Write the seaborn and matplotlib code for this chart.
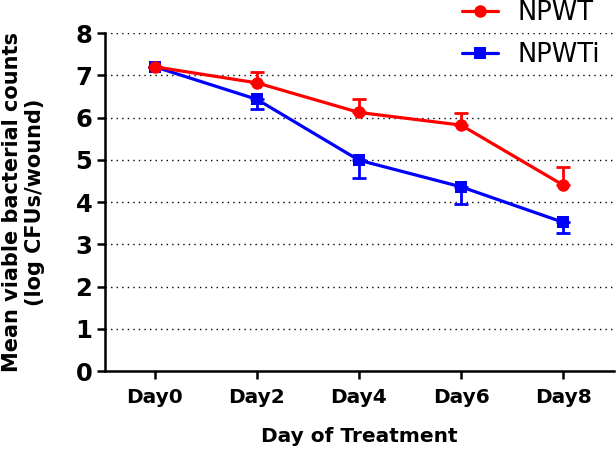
"""Bacterial counts over treatment days, NPWT vs NPWTi."""

import matplotlib
matplotlib.use("Agg")
import matplotlib.pyplot as plt
import numpy as np
import pandas as pd
import seaborn as sns

days = ["Day0", "Day2", "Day4", "Day6", "Day8"]
npwt_mean = [7.2, 6.82, 6.12, 5.82, 4.40]
npwt_err = [0.0, 0.26, 0.32, 0.28, 0.42]
npwti_mean = [7.2, 6.43, 4.99, 4.36, 3.52]
npwti_err = [0.0, 0.22, 0.42, 0.40, 0.26]

RED = "#ff0000"
BLUE = "#0000ff"


def main() -> None:
    sns.set_style("ticks")
    plt.rcParams["font.family"] = ["DejaVu Sans"]
    plt.rcParams["text.color"] = "black"
    plt.rcParams["axes.labelcolor"] = "black"

    x = np.arange(len(days))
    df = pd.DataFrame(
        {
            "day": np.concatenate([x, x]),
            "count": npwti_mean + npwt_mean,
            "group": ["NPWTi"] * len(days) + ["NPWT"] * len(days),
        }
    )

    fig = plt.figure(figsize=(6.16, 4.49), dpi=100)
    ax = fig.add_axes([0.170, 0.1737, 0.827, 0.7528])

    sns.lineplot(
        data=df,
        x="day",
        y="count",
        hue="group",
        style="group",
        hue_order=["NPWTi", "NPWT"],
        style_order=["NPWTi", "NPWT"],
        palette={"NPWT": RED, "NPWTi": BLUE},
        markers={"NPWT": "o", "NPWTi": "s"},
        dashes=False,
        markersize=9,
        markeredgewidth=0,
        linewidth=2.3,
        ax=ax,
        zorder=3,
    )

    # one-sided error bars, Prism style
    zeros = [0] * len(days)
    ax.errorbar(x, npwti_mean, yerr=[npwti_err, zeros], fmt="none",
                ecolor=BLUE, elinewidth=2.0, capsize=5, capthick=2.0, zorder=2)
    ax.errorbar(x, npwt_mean, yerr=[zeros, npwt_err], fmt="none",
                ecolor=RED, elinewidth=2.0, capsize=5, capthick=2.0, zorder=2)

    ax.set_xlim(-0.49, 4.5)
    ax.set_ylim(0, 8)
    ax.set_xticks(x)
    ax.set_xticklabels(days)
    ax.set_yticks(range(0, 9))
    ax.yaxis.grid(True, linestyle=(0, (1, 3)), color="black", linewidth=1.0)
    ax.set_axisbelow(True)

    for side in ("top", "right"):
        ax.spines[side].set_visible(False)
    for side in ("left", "bottom"):
        ax.spines[side].set_linewidth(1.8)
        ax.spines[side].set_color("black")
    ax.tick_params(axis="both", width=1.8, length=6, color="black",
                   labelcolor="black")
    ax.tick_params(axis="y", labelsize=17.5, pad=3)
    ax.tick_params(axis="x", labelsize=14.5, pad=6)
    for lbl in ax.get_xticklabels() + ax.get_yticklabels():
        lbl.set_fontweight("bold")

    ax.set_xlabel("Day of Treatment", fontsize=14.5, fontweight="bold")
    ax.set_ylabel("Mean viable bacterial counts\n(log CFUs/wound)",
                  fontsize=15, fontweight="bold", linespacing=1.15)
    ax.xaxis.set_label_coords(0.5, -0.165)
    ax.yaxis.set_label_coords(-0.118, 0.5)

    handles, labels = ax.get_legend_handles_labels()
    order = [labels.index("NPWT"), labels.index("NPWTi")]
    ax.get_legend().remove()
    fig.legend(
        [handles[i] for i in order],
        [labels[i] for i in order],
        loc="upper left",
        bbox_to_anchor=(0.75, 0.999),
        borderaxespad=0,
        borderpad=0,
        frameon=False,
        fontsize=18.5,
        handlelength=1.4,
        handletextpad=0.75,
        labelspacing=0.62,
    )

    fig.savefig("out.png", dpi=100)


if __name__ == "__main__":
    main()
